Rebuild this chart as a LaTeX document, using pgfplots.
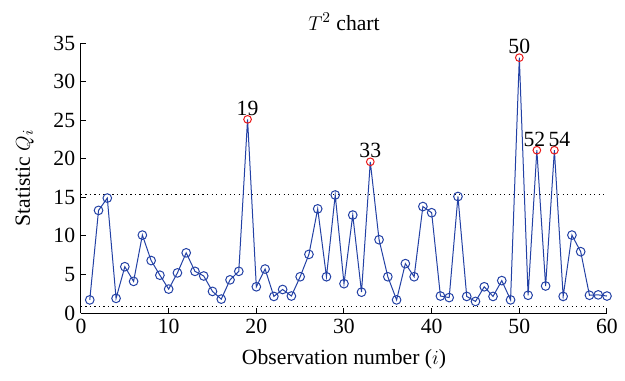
\documentclass[border=0pt]{standalone}
\usepackage{fontspec}
\setmainfont{Liberation Serif}
\usepackage{pgfplots}
\usepackage{pgfplotstable}
\pgfplotsset{compat=1.18}
\definecolor{lineblue}{RGB}{35,65,165}
\definecolor{outred}{RGB}{235,25,25}
\pgfplotstableread{
i q c
1 1.7 n
2 13.3 n
3 14.9 n
4 1.9 n
5 6.0 n
6 4.1 n
7 10.1 n
8 6.8 n
9 4.9 n
10 3.1 n
11 5.2 n
12 7.8 n
13 5.4 n
14 4.8 n
15 2.8 n
16 1.8 n
17 4.3 n
18 5.4 n
19 25.1 o
20 3.4 n
21 5.7 n
22 2.15 n
23 3.05 n
24 2.2 n
25 4.7 n
26 7.6 n
27 13.5 n
28 4.7 n
29 15.3 n
30 3.8 n
31 12.7 n
32 2.7 n
33 19.6 o
34 9.5 n
35 4.7 n
36 1.7 n
37 6.4 n
38 4.7 n
39 13.8 n
40 13.0 n
41 2.2 n
42 2.0 n
43 15.1 n
44 2.15 n
45 1.5 n
46 3.4 n
47 2.15 n
48 4.2 n
49 1.7 n
50 33.1 o
51 2.3 n
52 21.1 o
53 3.5 n
54 21.1 o
55 2.15 n
56 10.1 n
57 7.95 n
58 2.3 n
59 2.35 n
60 2.2 n
}\data
\begin{document}
\begin{tikzpicture}
\begin{axis}[
  width=315.6pt, height=162pt, scale only axis,
  xmin=0, xmax=60, ymin=0, ymax=35,
  axis lines*=left,
  axis line style={black, line width=0.6pt},
  tick align=inside,
  tick style={black, line width=0.6pt},
  major tick length=3pt,
  xtick={0,10,...,60}, ytick={0,5,...,35},
  /pgf/number format/assume math mode=true,
  ticklabel style={font=\fontsize{13}{15}\selectfont},
  label style={font=\fontsize{13}{15}\selectfont},
  title style={font=\fontsize{13}{15}\selectfont, yshift=-2pt},
  title={$T^2$ chart},
  xlabel={Observation number ($i$)},
  ylabel={Statistic $Q_i$},
  xlabel style={yshift=-3pt},
  ylabel style={yshift=5pt},
  clip=false,
]
\addplot[black, dotted, line width=0.7pt] coordinates {(0,15.35) (60,15.35)};
\addplot[black, dotted, line width=0.7pt] coordinates {(0,0.86) (60,0.86)};
\addplot[lineblue, line width=0.6pt, mark=o, mark size=2.6pt,
  scatter, scatter src=explicit symbolic,
  scatter/classes={n={mark=o, draw=lineblue, mark size=2.6pt}, o={mark=o, draw=outred, mark size=2.3pt}}]
  table[x=i, y=q, meta=c] {\data};
\addplot[draw=none, mark=none, nodes near coords, point meta=x,
  nodes near coords style={anchor=south, font=\fontsize{13}{15}\selectfont, inner sep=2pt}]
  coordinates {(19,25.1) (33,19.6) (50,33.1)};
\addplot[draw=none, mark=none, nodes near coords, point meta=x,
  nodes near coords style={anchor=south, font=\fontsize{13}{15}\selectfont, inner sep=2pt, xshift=-1.5pt}]
  coordinates {(52,21.1)};
\addplot[draw=none, mark=none, nodes near coords, point meta=x,
  nodes near coords style={anchor=south, font=\fontsize{13}{15}\selectfont, inner sep=2pt, xshift=3pt}]
  coordinates {(54,21.1)};
\end{axis}
\pgfresetboundingbox
\useasboundingbox (-48.6pt,-40.2pt) rectangle (326.4pt,187.8pt);
\end{tikzpicture}
\end{document}
